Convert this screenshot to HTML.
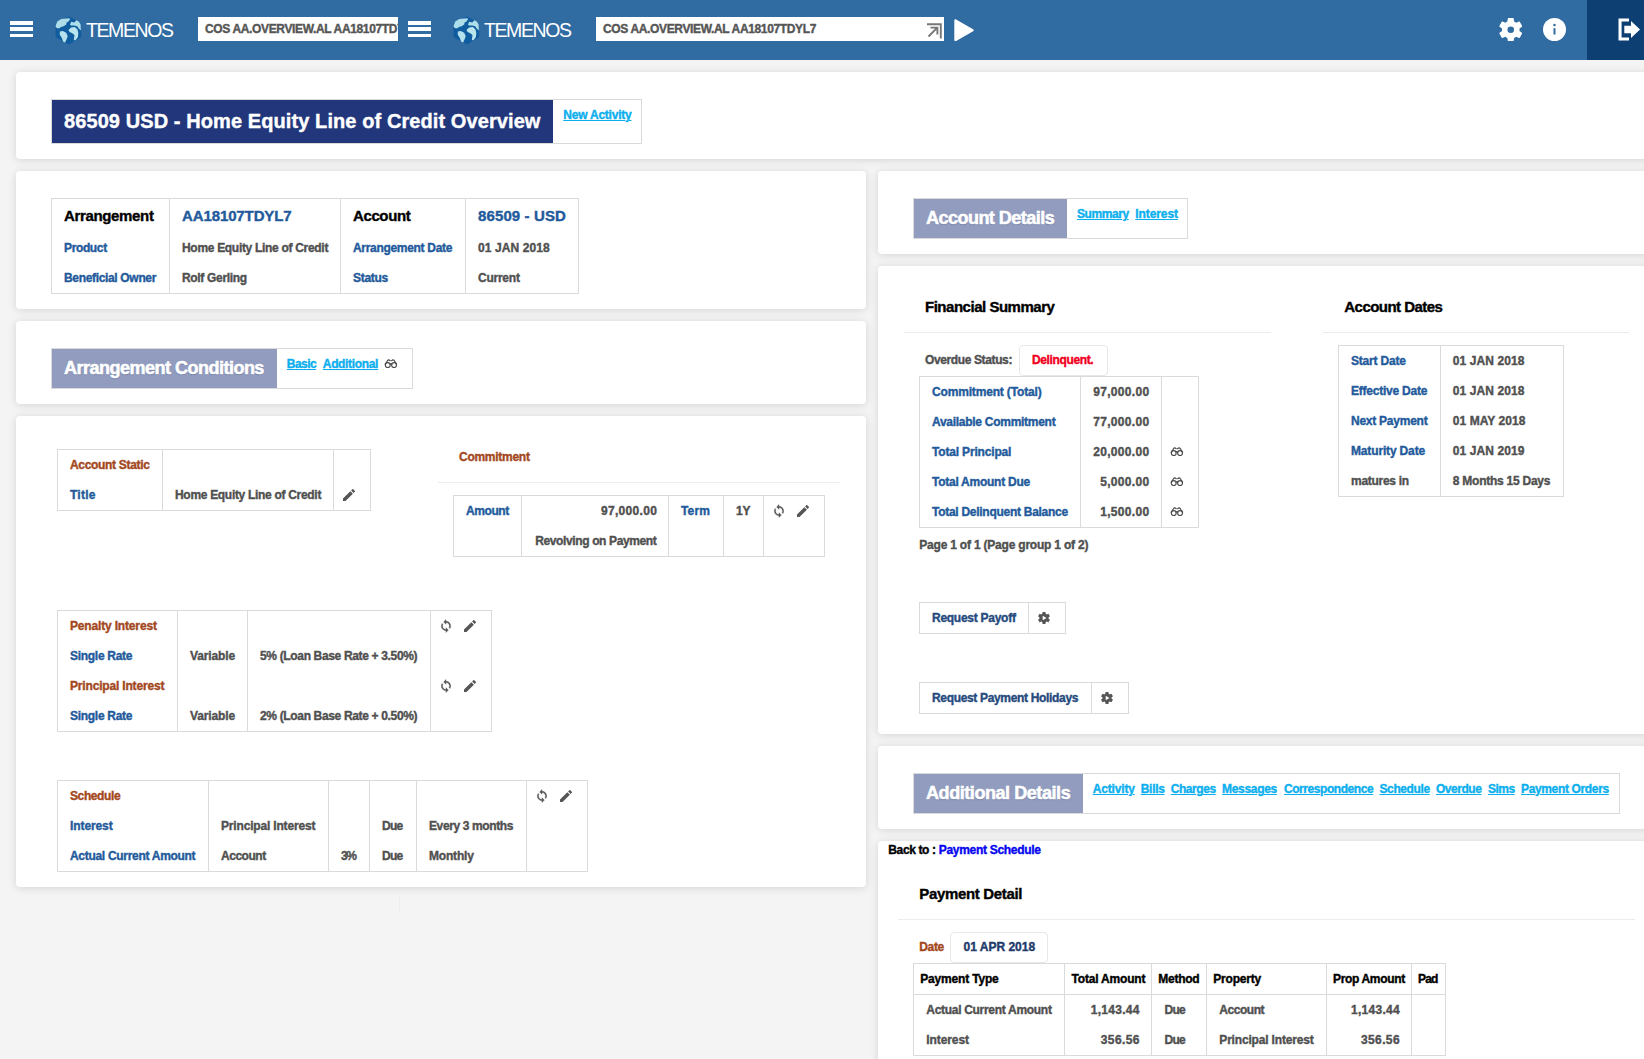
<!DOCTYPE html>
<html lang="en"><head><meta charset="utf-8"><title>86509 USD - Home Equity Line of Credit Overview</title>
<style>
html,body{margin:0;padding:0}
body{width:1644px;height:1059px;overflow:hidden;background:#f4f4f4;position:relative;font-family:"Liberation Sans",sans-serif;font-weight:700}
.b{position:absolute;display:block}
.t{position:absolute;white-space:nowrap;font-weight:700;-webkit-text-stroke:0.38px currentColor}
.u{text-decoration:underline;text-decoration-thickness:1px;text-underline-offset:1px}
</style></head><body>
<div class="b" style="left:0px;top:0px;width:1644px;height:60px;background:#306ba1;"></div>
<div class="b" style="left:1587px;top:0px;width:57px;height:60px;background:#0d3f73;"></div>
<div class="b" style="left:10px;top:21px;width:23px;height:3.6px;background:#fff;"></div>
<div class="b" style="left:10px;top:27.3px;width:23px;height:3.6px;background:#fff;"></div>
<div class="b" style="left:10px;top:33.8px;width:23px;height:3.6px;background:#fff;"></div>
<svg class="b" style="left:54.50px;top:15.50px;" width="27" height="29" viewBox="0 0 27 29"><path d="M14 0.900 L25.500 7.200 L25.700 20.900 L14 28 L1 20.900 L1 7.200 Z" fill="#0f5c9f" stroke="#0f5c9f" stroke-width="0.800" stroke-linejoin="round"/><path d="M0.700 9.600 L2.200 5.400 L6.300 3 L11.600 2.600 L14.100 2.200 L15.200 3 L13.500 5.400 L11.600 6.600 L11.200 8.500 L8.600 10.300 L5.950 11.100 L4.400 12.200 L2.200 12.200 L0.700 11.100 Z" fill="#acdde9"/><path d="M4.800 15.600 L7.800 14.900 L11.200 16.800 L12.700 20.200 L11.600 23.200 L10.100 26.600 L8.200 25.800 L6.700 21.700 L4.800 18.700 Z" fill="#b4e1ec"/><path d="M15 8.800 L16.100 5.800 L19.200 6.600 L21.400 4.300 L23.700 5.400 L25.600 8.100 L25.900 14.500 L23.700 12.600 L22.200 10.300 L19.200 9.600 L16.100 9.600 Z" fill="#acdde9"/><path d="M13.500 14.100 L16.100 11.500 L19.900 11.100 L22.500 13.400 L23.300 17.100 L22.900 20.900 L20.700 23.900 L18.800 24.300 L19.500 19 L16.900 17.100 L14.600 16 Z" fill="#b9e4ee"/></svg>
<span class="t" style="left:86.00px;top:20.69px;font-size:19.5px;line-height:19.5px;color:#fff;letter-spacing:-1.423px;font-weight:400;-webkit-text-stroke:0;">TEMENOS</span>
<div class="b" style="left:198px;top:17px;width:200px;height:24px;background:#fff;"></div>
<div class="b" style="left:198px;top:17px;width:200px;height:24px;overflow:hidden">
<span class="t" style="left:7.00px;top:6.14px;font-size:12px;line-height:12px;color:#555;letter-spacing:-0.355px;">COS AA.OVERVIEW.AL AA18107TDYL7</span>
</div>
<div class="b" style="left:408px;top:21px;width:23px;height:3.6px;background:#fff;"></div>
<div class="b" style="left:408px;top:27.3px;width:23px;height:3.6px;background:#fff;"></div>
<div class="b" style="left:408px;top:33.8px;width:23px;height:3.6px;background:#fff;"></div>
<svg class="b" style="left:452.50px;top:15.50px;" width="27" height="29" viewBox="0 0 27 29"><path d="M14 0.900 L25.500 7.200 L25.700 20.900 L14 28 L1 20.900 L1 7.200 Z" fill="#0f5c9f" stroke="#0f5c9f" stroke-width="0.800" stroke-linejoin="round"/><path d="M0.700 9.600 L2.200 5.400 L6.300 3 L11.600 2.600 L14.100 2.200 L15.200 3 L13.500 5.400 L11.600 6.600 L11.200 8.500 L8.600 10.300 L5.950 11.100 L4.400 12.200 L2.200 12.200 L0.700 11.100 Z" fill="#acdde9"/><path d="M4.800 15.600 L7.800 14.900 L11.200 16.800 L12.700 20.200 L11.600 23.200 L10.100 26.600 L8.200 25.800 L6.700 21.700 L4.800 18.700 Z" fill="#b4e1ec"/><path d="M15 8.800 L16.100 5.800 L19.200 6.600 L21.400 4.300 L23.700 5.400 L25.600 8.100 L25.900 14.500 L23.700 12.600 L22.200 10.300 L19.200 9.600 L16.100 9.600 Z" fill="#acdde9"/><path d="M13.500 14.100 L16.100 11.500 L19.900 11.100 L22.500 13.400 L23.300 17.100 L22.900 20.900 L20.700 23.900 L18.800 24.300 L19.500 19 L16.900 17.100 L14.600 16 Z" fill="#b9e4ee"/></svg>
<span class="t" style="left:484.00px;top:20.69px;font-size:19.5px;line-height:19.5px;color:#fff;letter-spacing:-1.423px;font-weight:400;-webkit-text-stroke:0;">TEMENOS</span>
<div class="b" style="left:596px;top:17px;width:348px;height:24px;background:#fff;"></div>
<span class="t" style="left:603.00px;top:23.14px;font-size:12px;line-height:12px;color:#555;letter-spacing:-0.355px;">COS AA.OVERVIEW.AL AA18107TDYL7</span>
<svg class="b" style="left:925.50px;top:23.00px;" width="16" height="16" viewBox="0 0 16 16"><g fill="none" stroke="#777" stroke-width="1.900"><path d="M1 1.200 H14.800 V15.500"/><path d="M2.500 13.500 L11.300 4.700 M4.500 4.600 H11.400 V11.500"/></g></svg>
<svg class="b" style="left:954.00px;top:18.50px;" width="20" height="22.5" viewBox="0 0 20 22.500"><path d="M1.500 1.500 L18.500 11.250 L1.500 21 Z" fill="#fff" stroke="#fff" stroke-width="2.400" stroke-linejoin="round"/></svg>
<svg class="b" style="left:1498.60px;top:17.80px;" width="23.5" height="23.5" viewBox="2 2 20 20"><path fill="#fff" fill-rule="evenodd" d="M19.43 12.98c.04-.32.07-.64.07-.98s-.03-.66-.07-.98l2.11-1.65c.19-.15.24-.42.12-.64l-2-3.46c-.12-.22-.39-.3-.61-.22l-2.49 1c-.52-.4-1.080-.73-1.690-.98l-.38-2.650C14.460 2.180 14.250 2 14 2h-4c-.25 0-.46.180-.49.420l-.38 2.650c-.61.250-1.170.590-1.690.980l-2.490-1c-.23-.09-.49 0-.61.220l-2 3.460c-.13.220-.07.490.12.640l2.110 1.650c-.04.320-.07.650-.07.980s.03.660.07.980l-2.110 1.650c-.19.150-.24.420-.12.640l2 3.460c.12.220.39.300.61.220l2.490-1c.52.400 1.080.730 1.690.980l.38 2.650c.03.240.24.420.49.420h4c.25 0 .46-.18.490-.42l.38-2.650c.61-.25 1.170-.59 1.690-.98l2.490 1c.23.090.49 0 .61-.22l2-3.460c.12-.22.070-.49-.12-.64l-2.110-1.650zM12 14.8a2.8 2.8 0 1 1 0-5.6a2.8 2.8 0 0 1 0 5.600z"/></svg>
<svg class="b" style="left:1543.00px;top:18.00px;" width="23" height="23" viewBox="0 0 23 23"><circle cx="11.500" cy="11.500" r="11.500" fill="#fff"/><rect x="10.500" y="10.200" width="2" height="6.300" fill="#306ba1"/><circle cx="11.500" cy="6.900" r="1.250" fill="#306ba1"/></svg>
<svg class="b" style="left:1618.00px;top:18.00px;" width="23" height="23" viewBox="0 0 23 23"><path fill="#fff" d="M0.500 0.500 H11 V3.600 H3.600 V19.400 H11 V22.500 H0.500 Z M6.300 7.800 H13 V3 L22 11.500 L13 20 V15.200 H6.300 Z"/></svg>
<div class="b" style="left:16px;top:72px;width:1648px;height:87px;background:#fff;border-radius:4px;box-shadow:0 1px 9px rgba(0,0,0,.13);"></div>
<div class="b" style="left:16px;top:171px;width:850px;height:138px;background:#fff;border-radius:4px;box-shadow:0 1px 9px rgba(0,0,0,.13);"></div>
<div class="b" style="left:16px;top:321px;width:850px;height:83px;background:#fff;border-radius:4px;box-shadow:0 1px 9px rgba(0,0,0,.13);"></div>
<div class="b" style="left:16px;top:416px;width:850px;height:471px;background:#fff;border-radius:4px;box-shadow:0 1px 9px rgba(0,0,0,.13);"></div>
<div class="b" style="left:878px;top:171px;width:786px;height:83px;background:#fff;border-radius:4px;box-shadow:0 1px 9px rgba(0,0,0,.13);"></div>
<div class="b" style="left:878px;top:266px;width:786px;height:468px;background:#fff;border-radius:4px;box-shadow:0 1px 9px rgba(0,0,0,.13);"></div>
<div class="b" style="left:878px;top:746px;width:786px;height:83px;background:#fff;border-radius:4px;box-shadow:0 1px 9px rgba(0,0,0,.13);"></div>
<div class="b" style="left:878px;top:841px;width:786px;height:238px;background:#fff;border-radius:4px;box-shadow:0 1px 9px rgba(0,0,0,.13);"></div>
<div class="b" style="left:51px;top:99px;width:591px;height:45px;border:1px solid #dadada;box-sizing:border-box;"></div>
<div class="b" style="left:52px;top:100px;width:501px;height:43px;background:#21367b;"></div>
<span class="t" style="left:64.00px;top:111.07px;font-size:20px;line-height:20px;color:#fff;letter-spacing:0.088px;">86509 USD - Home Equity Line of Credit Overview</span>
<span class="t u" style="left:563.30px;top:109.34px;font-size:12px;line-height:12px;color:#0cafee;letter-spacing:-0.229px;">New Activity</span>
<div class="b" style="left:51px;top:198px;width:528px;height:96px;border:1px solid #dadada;box-sizing:border-box;"></div>
<div class="b" style="left:169px;top:198px;width:1px;height:96px;background:#dadada;"></div>
<div class="b" style="left:340px;top:198px;width:1px;height:96px;background:#dadada;"></div>
<div class="b" style="left:465px;top:198px;width:1px;height:96px;background:#dadada;"></div>
<span class="t" style="left:64.00px;top:208.30px;font-size:15px;line-height:15px;color:#000;letter-spacing:-0.346px;">Arrangement</span>
<span class="t" style="left:182.00px;top:208.30px;font-size:15px;line-height:15px;color:#235a9b;letter-spacing:-0.113px;">AA18107TDYL7</span>
<span class="t" style="left:353.00px;top:208.30px;font-size:15px;line-height:15px;color:#000;letter-spacing:-0.388px;">Account</span>
<span class="t" style="left:478.00px;top:208.30px;font-size:15px;line-height:15px;color:#235a9b;letter-spacing:0.118px;">86509 - USD</span>
<span class="t" style="left:64.00px;top:241.84px;font-size:12px;line-height:12px;color:#235a9b;letter-spacing:-0.366px;">Product</span>
<span class="t" style="left:182.00px;top:241.84px;font-size:12px;line-height:12px;color:#505050;letter-spacing:-0.305px;">Home Equity Line of Credit</span>
<span class="t" style="left:353.00px;top:241.84px;font-size:12px;line-height:12px;color:#235a9b;letter-spacing:-0.310px;">Arrangement Date</span>
<span class="t" style="left:478.00px;top:241.84px;font-size:12px;line-height:12px;color:#505050;letter-spacing:0.093px;">01 JAN 2018</span>
<span class="t" style="left:64.00px;top:271.84px;font-size:12px;line-height:12px;color:#235a9b;letter-spacing:-0.332px;">Beneficial Owner</span>
<span class="t" style="left:182.00px;top:271.84px;font-size:12px;line-height:12px;color:#505050;letter-spacing:-0.320px;">Rolf Gerling</span>
<span class="t" style="left:353.00px;top:271.84px;font-size:12px;line-height:12px;color:#235a9b;letter-spacing:-0.310px;">Status</span>
<span class="t" style="left:478.00px;top:271.84px;font-size:12px;line-height:12px;color:#505050;letter-spacing:-0.241px;">Current</span>
<div class="b" style="left:51px;top:348px;width:362px;height:41px;border:1px solid #dadada;box-sizing:border-box;"></div>
<div class="b" style="left:52px;top:349px;width:225px;height:39px;background:#919cbf;"></div>
<span class="t" style="left:64.00px;top:358.76px;font-size:18px;line-height:18px;color:#fff;letter-spacing:-0.506px;-webkit-text-stroke:0.55px #fff;text-shadow:0 1px 1px rgba(60,70,110,.35);">Arrangement Conditions</span>
<span class="t u" style="left:286.80px;top:357.84px;font-size:12px;line-height:12px;color:#0cafee;letter-spacing:-0.533px;">Basic</span>
<span class="t u" style="left:322.80px;top:357.84px;font-size:12px;line-height:12px;color:#0cafee;letter-spacing:-0.336px;">Additional</span>
<svg class="b" style="left:383.50px;top:358.70px;" width="14" height="9.5" viewBox="0 0 14 9.5"><g fill="none" stroke="#4a4a4a" stroke-width="1.15" stroke-linecap="round" stroke-linejoin="round"><circle cx="3.75" cy="6.100" r="2.450"/><circle cx="10.05" cy="6.100" r="2.450"/><path d="M6 5.100 Q6.900 4.300 7.800 5.100"/><path d="M1.200 5.300 L3.500 1.700 Q4.300 0.600 5.500 1.100 L6.200 1.700"/><path d="M12.600 5.300 L10.300 1.700 Q9.500 0.600 8.300 1.100 L7.600 1.700"/></g></svg>
<div class="b" style="left:913px;top:198px;width:275px;height:41px;border:1px solid #dadada;box-sizing:border-box;"></div>
<div class="b" style="left:914px;top:199px;width:153px;height:39px;background:#919cbf;"></div>
<span class="t" style="left:926.00px;top:208.76px;font-size:18px;line-height:18px;color:#fff;letter-spacing:-0.527px;-webkit-text-stroke:0.55px #fff;text-shadow:0 1px 1px rgba(60,70,110,.35);">Account Details</span>
<span class="t u" style="left:1077.00px;top:207.84px;font-size:12px;line-height:12px;color:#0cafee;letter-spacing:-0.426px;">Summary</span>
<span class="t u" style="left:1135.30px;top:207.84px;font-size:12px;line-height:12px;color:#0cafee;letter-spacing:-0.094px;">Interest</span>
<div class="b" style="left:913px;top:773px;width:707px;height:41px;border:1px solid #dadada;box-sizing:border-box;"></div>
<div class="b" style="left:914px;top:774px;width:169px;height:39px;background:#919cbf;"></div>
<span class="t" style="left:926.00px;top:783.76px;font-size:18px;line-height:18px;color:#fff;letter-spacing:-0.433px;-webkit-text-stroke:0.55px #fff;text-shadow:0 1px 1px rgba(60,70,110,.35);">Additional Details</span>
<span class="t u" style="left:1092.75px;top:782.84px;font-size:12px;line-height:12px;color:#0cafee;letter-spacing:-0.173px;">Activity</span>
<span class="t u" style="left:1140.75px;top:782.84px;font-size:12px;line-height:12px;color:#0cafee;letter-spacing:-0.298px;">Bills</span>
<span class="t u" style="left:1170.75px;top:782.84px;font-size:12px;line-height:12px;color:#0cafee;letter-spacing:-0.439px;">Charges</span>
<span class="t u" style="left:1222.00px;top:782.84px;font-size:12px;line-height:12px;color:#0cafee;letter-spacing:-0.310px;">Messages</span>
<span class="t u" style="left:1284.00px;top:782.84px;font-size:12px;line-height:12px;color:#0cafee;letter-spacing:-0.439px;">Correspondence</span>
<span class="t u" style="left:1379.50px;top:782.84px;font-size:12px;line-height:12px;color:#0cafee;letter-spacing:-0.394px;">Schedule</span>
<span class="t u" style="left:1436.00px;top:782.84px;font-size:12px;line-height:12px;color:#0cafee;letter-spacing:-0.465px;">Overdue</span>
<span class="t u" style="left:1488.00px;top:782.84px;font-size:12px;line-height:12px;color:#0cafee;letter-spacing:-0.513px;">Sims</span>
<span class="t u" style="left:1521.00px;top:782.84px;font-size:12px;line-height:12px;color:#0cafee;letter-spacing:-0.351px;">Payment Orders</span>
<div class="b" style="left:57px;top:449px;width:314px;height:62px;border:1px solid #dadada;box-sizing:border-box;"></div>
<div class="b" style="left:162px;top:449px;width:1px;height:62px;background:#dadada;"></div>
<div class="b" style="left:333px;top:449px;width:1px;height:62px;background:#dadada;"></div>
<span class="t" style="left:70.00px;top:458.84px;font-size:12px;line-height:12px;color:#a3481e;letter-spacing:-0.317px;">Account Static</span>
<span class="t" style="left:70.00px;top:488.84px;font-size:12px;line-height:12px;color:#235a9b;letter-spacing:0.237px;">Title</span>
<span class="t" style="left:175.00px;top:488.84px;font-size:12px;line-height:12px;color:#505050;letter-spacing:-0.305px;">Home Equity Line of Credit</span>
<svg class="b" style="left:342.50px;top:488.70px;" width="12" height="12" viewBox="3 3 18 18"><path fill="#555" d="M3 17.25V21h3.75L17.81 9.94l-3.75-3.75L3 17.25zM20.71 7.04c.39-.39.39-1.02 0-1.41l-2.34-2.34c-.39-.39-1.02-.39-1.41 0l-1.83 1.83 3.75 3.75 1.83-1.83z"/></svg>
<span class="t" style="left:459.00px;top:450.84px;font-size:12px;line-height:12px;color:#a3481e;letter-spacing:-0.272px;">Commitment</span>
<div class="b" style="left:438px;top:482px;width:402px;height:1px;background:#ececec;"></div>
<div class="b" style="left:453px;top:495px;width:372px;height:62px;border:1px solid #dadada;box-sizing:border-box;"></div>
<div class="b" style="left:521px;top:495px;width:1px;height:62px;background:#dadada;"></div>
<div class="b" style="left:668px;top:495px;width:1px;height:62px;background:#dadada;"></div>
<div class="b" style="left:723px;top:495px;width:1px;height:62px;background:#dadada;"></div>
<div class="b" style="left:763px;top:495px;width:1px;height:62px;background:#dadada;"></div>
<span class="t" style="left:466.00px;top:504.84px;font-size:12px;line-height:12px;color:#235a9b;letter-spacing:-0.426px;">Amount</span>
<span class="t" style="right:986.89px;top:504.84px;font-size:12px;line-height:12px;color:#505050;letter-spacing:0.314px;">97,000.00</span>
<span class="t" style="right:987.57px;top:534.84px;font-size:12px;line-height:12px;color:#505050;letter-spacing:-0.374px;">Revolving on Payment</span>
<span class="t" style="left:681.00px;top:504.84px;font-size:12px;line-height:12px;color:#235a9b;letter-spacing:0.149px;">Term</span>
<span class="t" style="left:736.00px;top:504.84px;font-size:12px;line-height:12px;color:#505050;letter-spacing:-0.287px;">1Y</span>
<svg class="b" style="left:771.57px;top:504.17px;" width="14" height="14" viewBox="0 0 24 24"><path fill="#555" stroke="#555" stroke-width="0.700" d="M12 4V1L8 5l4 4V6c3.310 0 6 2.690 6 6 0 1.010-.25 1.970-.7 2.800l1.460 1.460C19.540 15.030 20 13.570 20 12c0-4.420-3.580-8-8-8zm0 14c-3.310 0-6-2.690-6-6 0-1.010.25-1.970.7-2.800L5.240 7.740C4.460 8.970 4 10.430 4 12c0 4.420 3.580 8 8 8v3l4-4-4-4v3z"/></svg>
<svg class="b" style="left:796.90px;top:504.80px;" width="12" height="12" viewBox="3 3 18 18"><path fill="#555" d="M3 17.25V21h3.75L17.81 9.94l-3.75-3.75L3 17.25zM20.71 7.04c.39-.39.39-1.02 0-1.41l-2.34-2.34c-.39-.39-1.02-.39-1.41 0l-1.83 1.83 3.75 3.75 1.83-1.83z"/></svg>
<div class="b" style="left:57px;top:610px;width:435px;height:122px;border:1px solid #dadada;box-sizing:border-box;"></div>
<div class="b" style="left:177px;top:610px;width:1px;height:122px;background:#dadada;"></div>
<div class="b" style="left:247px;top:610px;width:1px;height:122px;background:#dadada;"></div>
<div class="b" style="left:430px;top:610px;width:1px;height:122px;background:#dadada;"></div>
<span class="t" style="left:70.00px;top:619.84px;font-size:12px;line-height:12px;color:#a3481e;letter-spacing:-0.165px;">Penalty Interest</span>
<span class="t" style="left:70.00px;top:649.84px;font-size:12px;line-height:12px;color:#235a9b;letter-spacing:-0.286px;">Single Rate</span>
<span class="t" style="left:190.00px;top:649.84px;font-size:12px;line-height:12px;color:#505050;letter-spacing:-0.119px;">Variable</span>
<span class="t" style="left:260.00px;top:649.84px;font-size:12px;line-height:12px;color:#505050;letter-spacing:-0.339px;">5% (Loan Base Rate + 3.50%)</span>
<span class="t" style="left:70.00px;top:679.84px;font-size:12px;line-height:12px;color:#a3481e;letter-spacing:-0.175px;">Principal Interest</span>
<span class="t" style="left:70.00px;top:709.84px;font-size:12px;line-height:12px;color:#235a9b;letter-spacing:-0.286px;">Single Rate</span>
<span class="t" style="left:190.00px;top:709.84px;font-size:12px;line-height:12px;color:#505050;letter-spacing:-0.119px;">Variable</span>
<span class="t" style="left:260.00px;top:709.84px;font-size:12px;line-height:12px;color:#505050;letter-spacing:-0.339px;">2% (Loan Base Rate + 0.50%)</span>
<svg class="b" style="left:438.67px;top:619.17px;" width="14" height="14" viewBox="0 0 24 24"><path fill="#555" stroke="#555" stroke-width="0.700" d="M12 4V1L8 5l4 4V6c3.310 0 6 2.690 6 6 0 1.010-.25 1.970-.7 2.800l1.460 1.460C19.540 15.030 20 13.570 20 12c0-4.420-3.580-8-8-8zm0 14c-3.310 0-6-2.690-6-6 0-1.010.25-1.970.7-2.800L5.240 7.740C4.460 8.970 4 10.430 4 12c0 4.420 3.580 8 8 8v3l4-4-4-4v3z"/></svg>
<svg class="b" style="left:464.30px;top:619.80px;" width="12" height="12" viewBox="3 3 18 18"><path fill="#555" d="M3 17.25V21h3.75L17.81 9.94l-3.75-3.75L3 17.25zM20.71 7.04c.39-.39.39-1.02 0-1.41l-2.34-2.34c-.39-.39-1.02-.39-1.41 0l-1.83 1.83 3.75 3.75 1.83-1.83z"/></svg>
<svg class="b" style="left:438.67px;top:679.17px;" width="14" height="14" viewBox="0 0 24 24"><path fill="#555" stroke="#555" stroke-width="0.700" d="M12 4V1L8 5l4 4V6c3.310 0 6 2.690 6 6 0 1.010-.25 1.970-.7 2.800l1.460 1.460C19.540 15.030 20 13.570 20 12c0-4.420-3.580-8-8-8zm0 14c-3.310 0-6-2.690-6-6 0-1.010.25-1.970.7-2.800L5.240 7.740C4.460 8.970 4 10.430 4 12c0 4.420 3.580 8 8 8v3l4-4-4-4v3z"/></svg>
<svg class="b" style="left:464.30px;top:679.80px;" width="12" height="12" viewBox="3 3 18 18"><path fill="#555" d="M3 17.25V21h3.75L17.81 9.94l-3.75-3.75L3 17.25zM20.71 7.04c.39-.39.39-1.02 0-1.41l-2.34-2.34c-.39-.39-1.02-.39-1.41 0l-1.83 1.83 3.75 3.75 1.83-1.83z"/></svg>
<div class="b" style="left:57px;top:780px;width:531px;height:92px;border:1px solid #dadada;box-sizing:border-box;"></div>
<div class="b" style="left:208px;top:780px;width:1px;height:92px;background:#dadada;"></div>
<div class="b" style="left:328px;top:780px;width:1px;height:92px;background:#dadada;"></div>
<div class="b" style="left:369px;top:780px;width:1px;height:92px;background:#dadada;"></div>
<div class="b" style="left:416px;top:780px;width:1px;height:92px;background:#dadada;"></div>
<div class="b" style="left:526px;top:780px;width:1px;height:92px;background:#dadada;"></div>
<span class="t" style="left:70.00px;top:789.84px;font-size:12px;line-height:12px;color:#a3481e;letter-spacing:-0.394px;">Schedule</span>
<span class="t" style="left:70.00px;top:819.84px;font-size:12px;line-height:12px;color:#235a9b;letter-spacing:-0.094px;">Interest</span>
<span class="t" style="left:70.00px;top:849.84px;font-size:12px;line-height:12px;color:#235a9b;letter-spacing:-0.298px;">Actual Current Amount</span>
<span class="t" style="left:221.00px;top:819.84px;font-size:12px;line-height:12px;color:#505050;letter-spacing:-0.175px;">Principal Interest</span>
<span class="t" style="left:221.00px;top:849.84px;font-size:12px;line-height:12px;color:#505050;letter-spacing:-0.467px;">Account</span>
<span class="t" style="left:341.00px;top:849.84px;font-size:12px;line-height:12px;color:#505050;letter-spacing:-1.444px;">3%</span>
<span class="t" style="left:382.00px;top:819.84px;font-size:12px;line-height:12px;color:#505050;letter-spacing:-0.736px;">Due</span>
<span class="t" style="left:382.00px;top:849.84px;font-size:12px;line-height:12px;color:#505050;letter-spacing:-0.736px;">Due</span>
<span class="t" style="left:429.00px;top:819.84px;font-size:12px;line-height:12px;color:#505050;letter-spacing:-0.383px;">Every 3 months</span>
<span class="t" style="left:429.00px;top:849.84px;font-size:12px;line-height:12px;color:#505050;letter-spacing:-0.183px;">Monthly</span>
<svg class="b" style="left:534.57px;top:789.17px;" width="14" height="14" viewBox="0 0 24 24"><path fill="#555" stroke="#555" stroke-width="0.700" d="M12 4V1L8 5l4 4V6c3.310 0 6 2.690 6 6 0 1.010-.25 1.970-.7 2.800l1.460 1.460C19.540 15.030 20 13.570 20 12c0-4.420-3.580-8-8-8zm0 14c-3.310 0-6-2.690-6-6 0-1.010.25-1.970.7-2.800L5.240 7.740C4.460 8.970 4 10.430 4 12c0 4.420 3.580 8 8 8v3l4-4-4-4v3z"/></svg>
<svg class="b" style="left:560.20px;top:789.80px;" width="12" height="12" viewBox="3 3 18 18"><path fill="#555" d="M3 17.25V21h3.75L17.81 9.94l-3.75-3.75L3 17.25zM20.71 7.04c.39-.39.39-1.02 0-1.41l-2.34-2.34c-.39-.39-1.02-.39-1.41 0l-1.83 1.83 3.75 3.75 1.83-1.83z"/></svg>
<div class="b" style="left:399px;top:896px;width:1px;height:17px;background:#eeeeee;"></div>
<span class="t" style="left:925.00px;top:299.30px;font-size:15px;line-height:15px;color:#000;letter-spacing:-0.479px;">Financial Summary</span>
<div class="b" style="left:904px;top:332px;width:367px;height:1px;background:#ececec;"></div>
<span class="t" style="left:1344.30px;top:299.30px;font-size:15px;line-height:15px;color:#000;letter-spacing:-0.532px;">Account Dates</span>
<div class="b" style="left:1323px;top:332px;width:306px;height:1px;background:#ececec;"></div>
<span class="t" style="left:925.00px;top:353.84px;font-size:12px;line-height:12px;color:#505050;letter-spacing:-0.379px;">Overdue Status:</span>
<div class="b" style="left:1019px;top:345px;width:89px;height:31px;border:1px solid #e8e8e8;border-radius:4px;box-sizing:border-box;background:#fff;"></div>
<span class="t" style="left:1032.00px;top:353.84px;font-size:12px;line-height:12px;color:#f2001c;letter-spacing:-0.369px;">Delinquent.</span>
<div class="b" style="left:919px;top:376px;width:280px;height:152px;border:1px solid #dadada;box-sizing:border-box;"></div>
<div class="b" style="left:1080px;top:376px;width:1px;height:152px;background:#dadada;"></div>
<div class="b" style="left:1161px;top:376px;width:1px;height:152px;background:#dadada;"></div>
<span class="t" style="left:932.00px;top:385.84px;font-size:12px;line-height:12px;color:#235a9b;letter-spacing:-0.164px;">Commitment (Total)</span>
<span class="t" style="right:494.59px;top:385.84px;font-size:12px;line-height:12px;color:#505050;letter-spacing:0.314px;">97,000.00</span>
<span class="t" style="left:932.00px;top:415.84px;font-size:12px;line-height:12px;color:#235a9b;letter-spacing:-0.277px;">Available Commitment</span>
<span class="t" style="right:494.59px;top:415.84px;font-size:12px;line-height:12px;color:#505050;letter-spacing:0.314px;">77,000.00</span>
<span class="t" style="left:932.00px;top:445.84px;font-size:12px;line-height:12px;color:#235a9b;letter-spacing:-0.171px;">Total Principal</span>
<span class="t" style="right:494.59px;top:445.84px;font-size:12px;line-height:12px;color:#505050;letter-spacing:0.314px;">20,000.00</span>
<svg class="b" style="left:1170.00px;top:446.70px;" width="14" height="9.5" viewBox="0 0 14 9.5"><g fill="none" stroke="#4a4a4a" stroke-width="1.15" stroke-linecap="round" stroke-linejoin="round"><circle cx="3.75" cy="6.100" r="2.450"/><circle cx="10.05" cy="6.100" r="2.450"/><path d="M6 5.100 Q6.900 4.300 7.800 5.100"/><path d="M1.200 5.300 L3.500 1.700 Q4.300 0.600 5.500 1.100 L6.200 1.700"/><path d="M12.600 5.300 L10.300 1.700 Q9.500 0.600 8.300 1.100 L7.600 1.700"/></g></svg>
<span class="t" style="left:932.00px;top:475.84px;font-size:12px;line-height:12px;color:#235a9b;letter-spacing:-0.257px;">Total Amount Due</span>
<span class="t" style="right:494.59px;top:475.84px;font-size:12px;line-height:12px;color:#505050;letter-spacing:0.312px;">5,000.00</span>
<svg class="b" style="left:1170.00px;top:476.70px;" width="14" height="9.5" viewBox="0 0 14 9.5"><g fill="none" stroke="#4a4a4a" stroke-width="1.15" stroke-linecap="round" stroke-linejoin="round"><circle cx="3.75" cy="6.100" r="2.450"/><circle cx="10.05" cy="6.100" r="2.450"/><path d="M6 5.100 Q6.900 4.300 7.800 5.100"/><path d="M1.200 5.300 L3.500 1.700 Q4.300 0.600 5.500 1.100 L6.200 1.700"/><path d="M12.600 5.300 L10.300 1.700 Q9.500 0.600 8.300 1.100 L7.600 1.700"/></g></svg>
<span class="t" style="left:932.00px;top:505.84px;font-size:12px;line-height:12px;color:#235a9b;letter-spacing:-0.275px;">Total Delinquent Balance</span>
<span class="t" style="right:494.59px;top:505.84px;font-size:12px;line-height:12px;color:#505050;letter-spacing:0.312px;">1,500.00</span>
<svg class="b" style="left:1170.00px;top:506.70px;" width="14" height="9.5" viewBox="0 0 14 9.5"><g fill="none" stroke="#4a4a4a" stroke-width="1.15" stroke-linecap="round" stroke-linejoin="round"><circle cx="3.75" cy="6.100" r="2.450"/><circle cx="10.05" cy="6.100" r="2.450"/><path d="M6 5.100 Q6.900 4.300 7.800 5.100"/><path d="M1.200 5.300 L3.500 1.700 Q4.300 0.600 5.500 1.100 L6.200 1.700"/><path d="M12.600 5.300 L10.300 1.700 Q9.500 0.600 8.300 1.100 L7.600 1.700"/></g></svg>
<span class="t" style="left:919.30px;top:538.84px;font-size:12px;line-height:12px;color:#505050;letter-spacing:-0.207px;">Page 1 of 1 (Page group 1 of 2)</span>
<div class="b" style="left:919px;top:602px;width:147px;height:32px;border:1px solid #dadada;box-sizing:border-box;"></div>
<div class="b" style="left:1028px;top:602px;width:1px;height:32px;background:#dadada;"></div>
<span class="t" style="left:932.00px;top:611.84px;font-size:12px;line-height:12px;color:#264a7d;letter-spacing:-0.266px;">Request Payoff</span>
<svg class="b" style="left:1038.00px;top:611.80px;" width="12" height="12" viewBox="2 2 20 20"><path fill="#555" d="M19.43 12.98c.04-.32.07-.64.07-.98s-.03-.66-.07-.98l2.11-1.65c.19-.15.24-.42.12-.64l-2-3.46c-.12-.22-.39-.3-.61-.22l-2.49 1c-.52-.4-1.080-.73-1.690-.98l-.38-2.650C14.460 2.180 14.250 2 14 2h-4c-.25 0-.46.180-.49.420l-.38 2.650c-.61.250-1.170.590-1.690.980l-2.490-1c-.23-.09-.49 0-.61.220l-2 3.460c-.13.220-.07.490.12.640l2.110 1.650c-.04.320-.07.650-.07.980s.03.660.07.980l-2.110 1.650c-.19.150-.24.420-.12.640l2 3.460c.12.220.39.300.61.220l2.490-1c.52.400 1.080.730 1.690.980l.38 2.650c.03.240.24.420.49.420h4c.25 0 .46-.18.490-.42l.38-2.650c.61-.25 1.170-.59 1.690-.98l2.490 1c.23.090.49 0 .61-.22l2-3.460c.12-.22.070-.49-.12-.64l-2.110-1.650z"/><path fill="#fff" d="M9.8 8.3 L16.300 12 L9.8 15.700z"/></svg>
<div class="b" style="left:919px;top:682px;width:210px;height:32px;border:1px solid #dadada;box-sizing:border-box;"></div>
<div class="b" style="left:1091px;top:682px;width:1px;height:32px;background:#dadada;"></div>
<span class="t" style="left:932.00px;top:691.84px;font-size:12px;line-height:12px;color:#264a7d;letter-spacing:-0.333px;">Request Payment Holidays</span>
<svg class="b" style="left:1100.80px;top:691.80px;" width="12" height="12" viewBox="2 2 20 20"><path fill="#555" d="M19.43 12.98c.04-.32.07-.64.07-.98s-.03-.66-.07-.98l2.11-1.65c.19-.15.24-.42.12-.64l-2-3.46c-.12-.22-.39-.3-.61-.22l-2.49 1c-.52-.4-1.080-.73-1.690-.98l-.38-2.650C14.460 2.180 14.250 2 14 2h-4c-.25 0-.46.180-.49.420l-.38 2.650c-.61.250-1.170.590-1.690.980l-2.490-1c-.23-.09-.49 0-.61.220l-2 3.460c-.13.220-.07.490.12.640l2.110 1.650c-.04.320-.07.650-.07.980s.03.660.07.980l-2.110 1.650c-.19.150-.24.420-.12.640l2 3.460c.12.220.39.300.61.220l2.490-1c.52.400 1.080.730 1.690.980l.38 2.650c.03.240.24.420.49.420h4c.25 0 .46-.18.490-.42l.38-2.650c.61-.25 1.170-.59 1.690-.98l2.490 1c.23.090.49 0 .61-.22l2-3.460c.12-.22.070-.49-.12-.64l-2.110-1.650z"/><path fill="#fff" d="M9.8 8.3 L16.300 12 L9.8 15.700z"/></svg>
<div class="b" style="left:1338px;top:345px;width:226px;height:152px;border:1px solid #dadada;box-sizing:border-box;"></div>
<div class="b" style="left:1440px;top:345px;width:1px;height:152px;background:#dadada;"></div>
<span class="t" style="left:1351.00px;top:354.84px;font-size:12px;line-height:12px;color:#235a9b;letter-spacing:-0.199px;">Start Date</span>
<span class="t" style="left:1452.80px;top:354.84px;font-size:12px;line-height:12px;color:#505050;letter-spacing:0.093px;">01 JAN 2018</span>
<span class="t" style="left:1351.00px;top:384.84px;font-size:12px;line-height:12px;color:#235a9b;letter-spacing:-0.229px;">Effective Date</span>
<span class="t" style="left:1452.80px;top:384.84px;font-size:12px;line-height:12px;color:#505050;letter-spacing:0.093px;">01 JAN 2018</span>
<span class="t" style="left:1351.00px;top:414.84px;font-size:12px;line-height:12px;color:#235a9b;letter-spacing:-0.248px;">Next Payment</span>
<span class="t" style="left:1452.80px;top:414.84px;font-size:12px;line-height:12px;color:#505050;letter-spacing:0.059px;">01 MAY 2018</span>
<span class="t" style="left:1351.00px;top:444.84px;font-size:12px;line-height:12px;color:#235a9b;letter-spacing:-0.155px;">Maturity Date</span>
<span class="t" style="left:1452.80px;top:444.84px;font-size:12px;line-height:12px;color:#505050;letter-spacing:0.093px;">01 JAN 2019</span>
<span class="t" style="left:1351.00px;top:474.84px;font-size:12px;line-height:12px;color:#505050;letter-spacing:-0.282px;">matures in</span>
<span class="t" style="left:1452.80px;top:474.84px;font-size:12px;line-height:12px;color:#505050;letter-spacing:-0.248px;">8 Months 15 Days</span>
<span class="t" style="left:888.30px;top:843.84px;font-size:12px;line-height:12px;color:#000;letter-spacing:-0.380px;">Back to :</span>
<span class="t" style="left:938.80px;top:843.84px;font-size:12px;line-height:12px;color:#0505f0;letter-spacing:-0.305px;">Payment Schedule</span>
<span class="t" style="left:919.30px;top:886.30px;font-size:15px;line-height:15px;color:#000;letter-spacing:-0.338px;">Payment Detail</span>
<div class="b" style="left:898px;top:919px;width:737px;height:1px;background:#ececec;"></div>
<span class="t" style="left:919.30px;top:940.84px;font-size:12px;line-height:12px;color:#a3481e;letter-spacing:-0.372px;">Date</span>
<div class="b" style="left:950px;top:932px;width:98px;height:31px;border:1px solid #e8e8e8;border-radius:4px;box-sizing:border-box;"></div>
<span class="t" style="left:963.50px;top:940.84px;font-size:12px;line-height:12px;color:#223a6b;letter-spacing:0.004px;">01 APR 2018</span>
<div class="b" style="left:913px;top:963px;width:533px;height:93px;border:1px solid #dadada;box-sizing:border-box;"></div>
<div class="b" style="left:1064px;top:963px;width:1px;height:93px;background:#dadada;"></div>
<div class="b" style="left:1151px;top:963px;width:1px;height:93px;background:#dadada;"></div>
<div class="b" style="left:1206px;top:963px;width:1px;height:93px;background:#dadada;"></div>
<div class="b" style="left:1326px;top:963px;width:1px;height:93px;background:#dadada;"></div>
<div class="b" style="left:1411px;top:963px;width:1px;height:93px;background:#dadada;"></div>
<div class="b" style="left:913px;top:994px;width:533px;height:1px;background:#dadada;"></div>
<span class="t" style="left:920.30px;top:973.14px;font-size:12px;line-height:12px;color:#000;letter-spacing:-0.189px;">Payment Type</span>
<span class="t" style="left:1071.50px;top:973.14px;font-size:12px;line-height:12px;color:#000;letter-spacing:-0.189px;">Total Amount</span>
<span class="t" style="left:1158.30px;top:973.14px;font-size:12px;line-height:12px;color:#000;letter-spacing:-0.251px;">Method</span>
<span class="t" style="left:1213.30px;top:973.14px;font-size:12px;line-height:12px;color:#000;letter-spacing:-0.208px;">Property</span>
<span class="t" style="left:1333.00px;top:973.14px;font-size:12px;line-height:12px;color:#000;letter-spacing:-0.340px;">Prop Amount</span>
<span class="t" style="left:1418.00px;top:973.14px;font-size:12px;line-height:12px;color:#000;letter-spacing:-0.808px;">Pad</span>
<span class="t" style="left:926.30px;top:1003.84px;font-size:12px;line-height:12px;color:#505050;letter-spacing:-0.298px;">Actual Current Amount</span>
<span class="t" style="right:504.32px;top:1003.84px;font-size:12px;line-height:12px;color:#505050;letter-spacing:0.276px;">1,143.44</span>
<span class="t" style="left:1164.50px;top:1003.84px;font-size:12px;line-height:12px;color:#505050;letter-spacing:-0.736px;">Due</span>
<span class="t" style="left:1219.30px;top:1003.84px;font-size:12px;line-height:12px;color:#505050;letter-spacing:-0.467px;">Account</span>
<span class="t" style="right:244.12px;top:1003.84px;font-size:12px;line-height:12px;color:#505050;letter-spacing:0.276px;">1,143.44</span>
<span class="t" style="left:926.30px;top:1033.84px;font-size:12px;line-height:12px;color:#505050;letter-spacing:-0.094px;">Interest</span>
<span class="t" style="right:504.21px;top:1033.84px;font-size:12px;line-height:12px;color:#505050;letter-spacing:0.389px;">356.56</span>
<span class="t" style="left:1164.50px;top:1033.84px;font-size:12px;line-height:12px;color:#505050;letter-spacing:-0.736px;">Due</span>
<span class="t" style="left:1219.30px;top:1033.84px;font-size:12px;line-height:12px;color:#505050;letter-spacing:-0.175px;">Principal Interest</span>
<span class="t" style="right:244.01px;top:1033.84px;font-size:12px;line-height:12px;color:#505050;letter-spacing:0.389px;">356.56</span>
</body></html>
